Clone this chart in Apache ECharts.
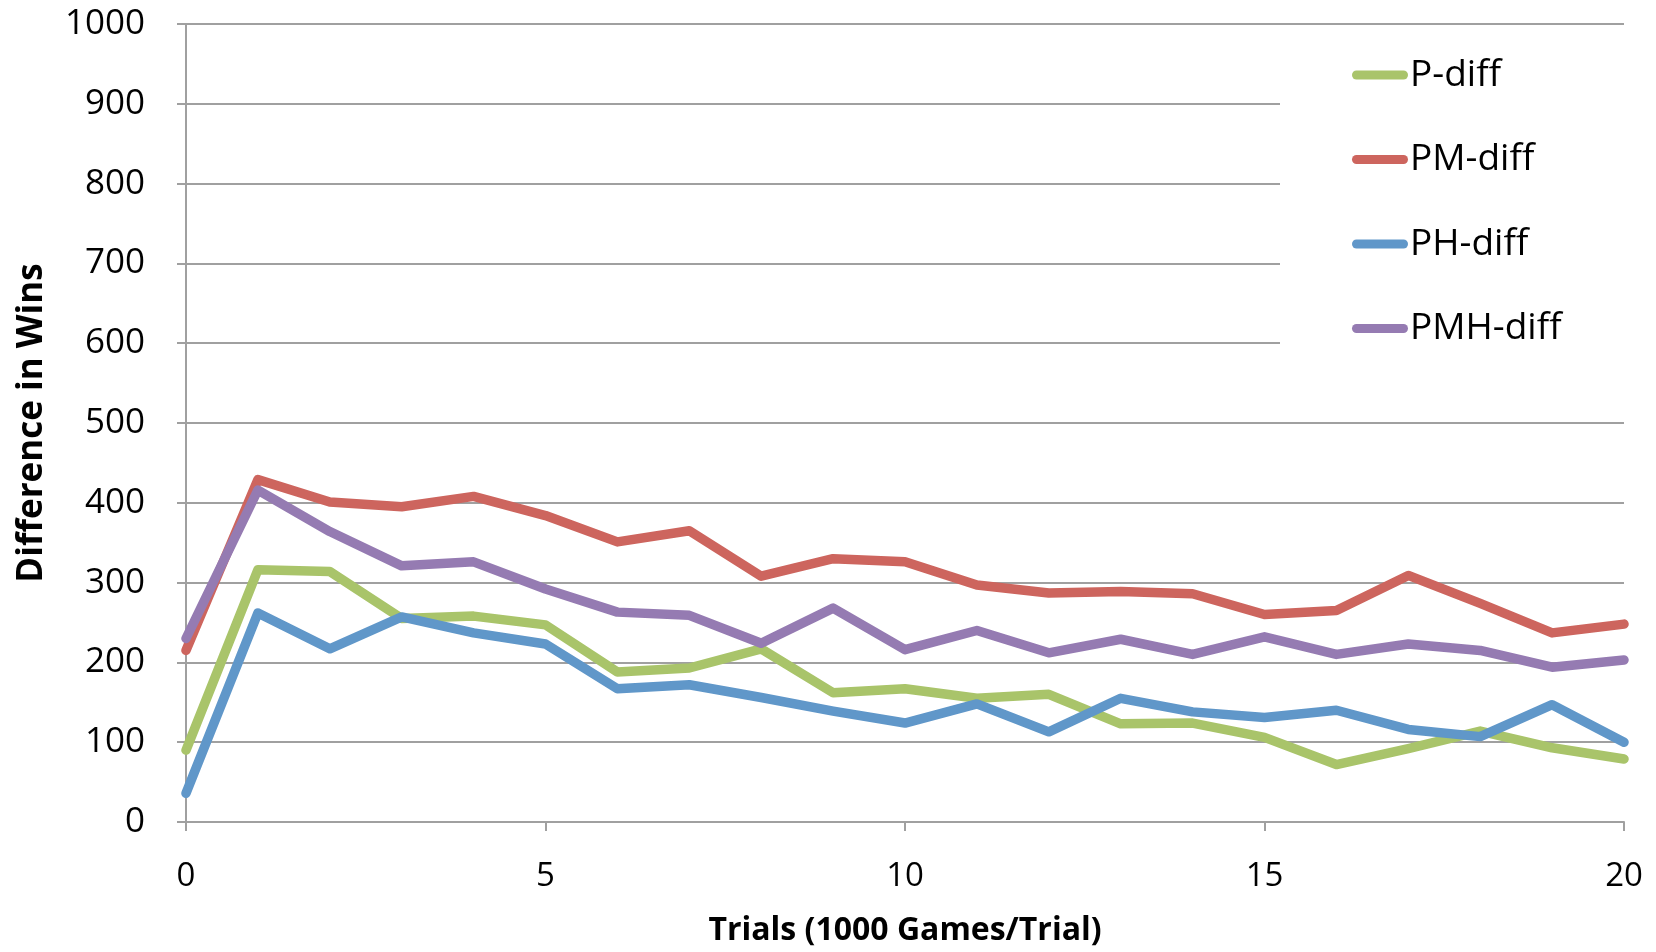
<!DOCTYPE html>
<html>
<head>
<meta charset="utf-8">
<script src="https://cdn.jsdelivr.net/npm/echarts@6/dist/echarts.min.js"></script>
<style>
  html, body { margin: 0; padding: 0; background: #fff; }
  #chart { width: 1656px; height: 952px; }
</style>
</head>
<body>
<div id="chart"></div>
<script>
// Trial index (each trial = 1000 games)
const trials = [0, 1, 2, 3, 4, 5, 6, 7, 8, 9, 10, 11, 12, 13, 14, 15, 16, 17, 18, 19, 20];

// Difference in wins per trial, one array per comparison
const pDiff   = [90, 316, 314, 255, 258, 247, 188, 193, 217, 162, 167, 155, 160, 123, 124, 106, 72, 92, 114, 93, 79];
const pmDiff  = [215, 429, 401, 395, 408, 384, 351, 365, 308, 330, 326, 297, 287, 289, 286, 260, 265, 309, 274, 237, 248];
const phDiff  = [36, 262, 217, 257, 237, 223, 167, 172, 156, 139, 124, 148, 113, 155, 138, 131, 140, 116, 107, 147, 100];
const pmhDiff = [230, 416, 364, 321, 326, 292, 263, 259, 224, 268, 216, 240, 212, 229, 210, 232, 210, 223, 215, 194, 203];

const seriesNames = ['P-diff', 'PM-diff', 'PH-diff', 'PMH-diff'];
const seriesValues = [pDiff, pmDiff, phDiff, pmhDiff];
const seriesColors = ['#A9C46A', '#CD655E', '#6097C9', '#957BB2'];

const xTicks = [0, 5, 10, 15, 20];
const yTicks = [0, 100, 200, 300, 400, 500, 600, 700, 800, 900, 1000];

const gridColor = '#A0A0A0';
const textFont = 'Open Sans';

const chart = echarts.init(document.getElementById('chart'), null, { renderer: 'canvas' });

chart.setOption({
  animation: false,
  backgroundColor: '#ffffff',
  grid: { left: 186, right: 32, top: 24, bottom: 122, containLabel: false },
  legend: {
    orient: 'vertical',
    left: 1280,
    top: 35,
    padding: [20, 90, 40, 72],
    backgroundColor: '#ffffff',
    itemWidth: 56,
    itemHeight: 9,
    itemGap: 44.5,
    icon: 'path://M4.5,0L51.5,0A4.5,4.5,0,0,1,51.5,9L4.5,9A4.5,4.5,0,0,1,4.5,0Z',
    textStyle: { fontFamily: textFont, fontSize: 37, color: '#000', lineHeight: 40, padding: [0, 0, 0, -3] },
    data: seriesNames
  },
  xAxis: {
    type: 'value',
    min: xTicks[0],
    max: xTicks[xTicks.length - 1],
    interval: xTicks[1] - xTicks[0],
    name: 'Trials (1000 Games/Trial)',
    nameLocation: 'middle',
    nameGap: 93,
    nameTextStyle: { fontFamily: textFont, fontWeight: 'bold', fontSize: 32, color: '#000' },
    axisLine: { show: true, lineStyle: { color: gridColor, width: 2 } },
    axisTick: { show: true, length: 9, lineStyle: { color: gridColor, width: 2 } },
    axisLabel: { margin: 38, fontFamily: textFont, fontSize: 33, color: '#000' },
    splitLine: { show: false }
  },
  yAxis: {
    type: 'value',
    min: yTicks[0],
    max: yTicks[yTicks.length - 1],
    interval: yTicks[1] - yTicks[0],
    name: 'Difference in Wins',
    nameLocation: 'middle',
    nameRotate: 90,
    nameGap: 136,
    nameTextStyle: { fontFamily: textFont, fontWeight: 'bold', fontSize: 35, color: '#000' },
    axisLine: { show: true, lineStyle: { color: gridColor, width: 2 } },
    axisTick: { show: true, length: 9, lineStyle: { color: gridColor, width: 2 } },
    axisLabel: { margin: 41, fontFamily: textFont, fontSize: 35, color: '#000', padding: [8, 0, 0, 0], formatter: v => String(v) },
    splitLine: { show: true, lineStyle: { color: gridColor, width: 2 } }
  },
  series: seriesNames.map((name, i) => ({
    name: name,
    type: 'line',
    data: trials.map((t, j) => [t, seriesValues[i][j]]),
    symbol: 'none',
    color: seriesColors[i],
    lineStyle: { width: 9.5, color: seriesColors[i], cap: 'round', join: 'round' },
    z: 2 + i
  }))
});
</script>
</body>
</html>
